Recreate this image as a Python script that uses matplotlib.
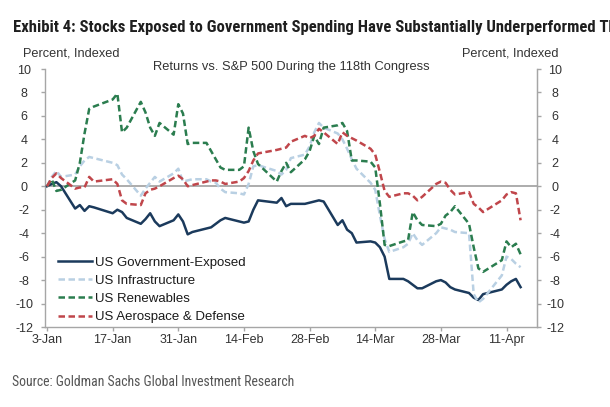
import numpy as np
import pandas as pd
import matplotlib
matplotlib.use('Agg')
import matplotlib.pyplot as plt
from matplotlib import font_manager

# ------------------------------------------------------------------------------------------------
# Daten (Handelstage 3-Jan bis 14-Apr 2023)
feiertage = ['2023-01-16', '2023-02-20', '2023-04-07']
tage = pd.bdate_range('2023-01-03', '2023-04-14')
tage = tage[~tage.isin(pd.to_datetime(feiertage))]

gov = [0, 0.2, 0.35, 0.0, -1.9, -1.6, -2.1, -1.7, -1.8, -2.3, -2.0, -2.2, -2.7, -3.2, -2.8, -2.3, -3.0, -3.4, -2.9, -2.4,
       -3.0, -4.1, -3.9, -3.6, -3.5, -3.2, -2.9, -2.7, -3.0, -3.1, -3.0, -2.0, -1.2, -1.4, -1.0, -1.7, -1.5, -1.5, -1.4,
       -1.3, -1.2, -1.3, -3.3, -2.9, -3.7, -4.0, -4.8, -4.7, -4.8, -5.2, -6.0, -7.9, -7.9, -8.1, -8.4, -8.7, -8.7, -8.1, -8.0, -8.2, -8.6, -8.8,
       -9.1, -9.5, -9.7, -9.2, -8.8, -8.4, -8.1, -7.9, -8.6]
infra = [0, 0.8, 1.3, 0.8, 1.0, 1.7, 2.2, 2.5, 2.4, 2.0, 1.8, 1.0, 0.6, -0.8, -0.2, 0.3, 0.8, 0.4, 1.1, 1.5,
         0.4, 0.5, 0.6, 0.6, 0.4, 0.3, -0.2, -0.5, -0.6, -0.7, 0.2, 1.7, 1.8, 1.3, 1.0, 1.4, 2.4, 2.7, 3.4,
         4.6, 5.4, 5.0, 4.5, 4.0, 3.2, 2.3, 1.5, 0.3, -0.3, -2.5, -4.5, -5.6, -5.2, -4.9, -4.0, -4.6, -5.0, -4.0, -3.5, -3.6, -3.7, -3.9,
         -4.0, -9.2, -9.9, -9.6, -7.6, -6.0, -6.2, -6.6, -6.9]
renew = [0, 0.6, -0.4, -0.3, 0.5, 2.0, 4.5, 6.6, 6.8, 7.4, 7.9, 4.6, 5.0, 7.2, 6.3, 5.0, 4.3, 5.4, 4.4, 7.0,
         6.2, 3.6, 3.7, 3.7, 3.0, 2.3, 1.6, 1.4, 1.4, 1.7, 5.0, 3.0, 1.9, 0.4, 1.3, 2.0, 1.2, 2.3, 3.0,
         4.3, 3.6, 5.0, 5.2, 5.4, 4.7, 2.2, 2.2, 2.1, 1.6, -1.5, -5.0, -5.1, -4.7, -4.6, -2.2, -2.9, -3.3, -3.4, -3.2, -2.5, -2.2, -1.7,
         -3.2, -5.2, -7.0, -7.3, -6.3, -4.7, -5.2, -4.9, -5.8]
aero = [0, 0.7, 1.1, 0.7, -0.2, -0.1, -0.1, 0.8, 0.4, 0.6, 0.2, -1.2, -1.5, -1.6, -0.6, -0.3, -0.2, 0.0, 0.7, 0.9,
        0.6, 0.0, 0.1, 0.4, 0.5, 0.5, 0.4, 0.2, 0.4, 0.7, 1.3, 2.2, 2.8, 3.1, 3.2, 3.3, 3.8, 4.3, 4.1,
        4.3, 4.9, 4.6, 3.6, 4.6, 4.3, 4.1, 3.9, 3.2, 2.7, 1.2, -0.4, -0.9, -0.6, -0.6, -0.8, -1.2, -0.9, 0.2, 0.4, 0.3, -0.3, -0.7,
        -0.5, -1.5, -1.8, -2.2, -1.2, -0.7, -0.5, -0.6, -2.9]

namen = ['US Government-Exposed', 'US Infrastructure', 'US Renewables', 'US Aerospace & Defense']
x_ticks = ['2023-01-03', '2023-01-17', '2023-01-31', '2023-02-14', '2023-02-28', '2023-03-14', '2023-03-28', '2023-04-11']
x_labels = ['3-Jan', '17-Jan', '31-Jan', '14-Feb', '28-Feb', '14-Mar', '28-Mar', '11-Apr']
y_ticks = list(range(-12, 11, 2))

# ------------------------------------------------------------------------------------------------
# Schriften
vorhanden = {f.name for f in font_manager.fontManager.ttflist}
schmal = None
for kandidat in ['Roboto Condensed', 'Liberation Sans Narrow', 'Open Sans Condensed', 'DejaVu Sans Condensed']:
    if kandidat in vorhanden:
        schmal = kandidat
        break
if schmal is None:
    schmal_kw = dict(family='DejaVu Sans', stretch='condensed')
else:
    schmal_kw = dict(family=schmal)

plt.rcParams['font.family'] = ['Liberation Sans', 'DejaVu Sans']

grau = '#a6a6a6'
txt = '#333333'

# ------------------------------------------------------------------------------------------------
fig = plt.figure(figsize=(6.10, 4.07), dpi=100)
ax = fig.add_axes([45/610, 1-327/407, 492/610, 258/407])

ax.axhline(0, color=grau, lw=1.3, zorder=1)
ax.plot(tage, gov, color='#1b3a5c', lw=1.8, label=namen[0], zorder=3)
ax.plot(tage, infra, color='#b9d0e3', lw=1.8, ls=(0, (2.6, 1.4)), label=namen[1], zorder=3)
ax.plot(tage, renew, color='#2b7d4f', lw=1.8, ls=(0, (2.6, 1.4)), label=namen[2], zorder=3)
ax.plot(tage, aero, color='#c0464b', lw=1.8, ls=(0, (2.6, 1.4)), label=namen[3], zorder=3)

start = pd.Timestamp('2023-01-03')
ax.set_xlim(start - pd.Timedelta(days=0.43), start + pd.Timedelta(days=104.5))
ax.set_ylim(-12, 10)
ax.set_xticks(pd.to_datetime(x_ticks))
ax.set_xticklabels(x_labels)
ax.set_yticks(y_ticks)
ax.set_yticklabels([str(v) for v in y_ticks])

for s in ['top']:
    ax.spines[s].set_visible(False)
for s in ['left', 'right', 'bottom']:
    ax.spines[s].set_color(grau)
    ax.spines[s].set_linewidth(1.0)

ax.tick_params(axis='x', length=3, width=1, color=grau, labelsize=9, labelcolor=txt, pad=2)
ax.tick_params(axis='y', length=3, width=1, color=grau, labelsize=9, labelcolor=txt, pad=12)
for lab in ax.get_yticklabels():
    lab.set_horizontalalignment('center')

ax2 = ax.twinx()
ax2.set_ylim(-12, 10)
ax2.set_yticks(y_ticks)
ax2.set_yticklabels([str(v) for v in y_ticks])
for s in ['top', 'left', 'bottom']:
    ax2.spines[s].set_visible(False)
ax2.spines['right'].set_color(grau)
ax2.tick_params(axis='y', length=3, width=1, color=grau, labelsize=9, labelcolor=txt, pad=10)
for lab in ax2.get_yticklabels():
    lab.set_horizontalalignment('center')

leg = ax.legend(loc='lower left', bbox_to_anchor=(0.026, 0.015), frameon=False, fontsize=9.5,
                handlelength=2.6, handletextpad=0.25, labelspacing=0.45, borderpad=0, borderaxespad=0)
for t in leg.get_texts():
    t.set_color('#1a1a1a')

# ------------------------------------------------------------------------------------------------
# Texte
fig.text(12.7/610, 1-32.3/407,
         'Exhibit 4: Stocks Exposed to Government Spending Have Substantially Underperformed The Broader Market',
         fontsize=12.0, fontweight='bold', color='#1f1f1f', va='baseline', ha='left', **schmal_kw)
fig.text(22.7/610, 1-56.7/407, 'Percent, Indexed', fontsize=9.2, color=txt, va='baseline', ha='left')
fig.text(559/610, 1-56.7/407, 'Percent, Indexed', fontsize=9.2, color=txt, va='baseline', ha='right')
fig.text(291/610, 1-70/407, 'Returns vs. S&P 500 During the 118th Congress', fontsize=9.3, color=txt,
         va='baseline', ha='center')
fig.text(12/610, 1-386/407, 'Source: Goldman Sachs Global Investment Research', fontsize=9.9,
         color='#555555', va='baseline', ha='left', **schmal_kw)

fig.savefig('out.png', dpi=100)
